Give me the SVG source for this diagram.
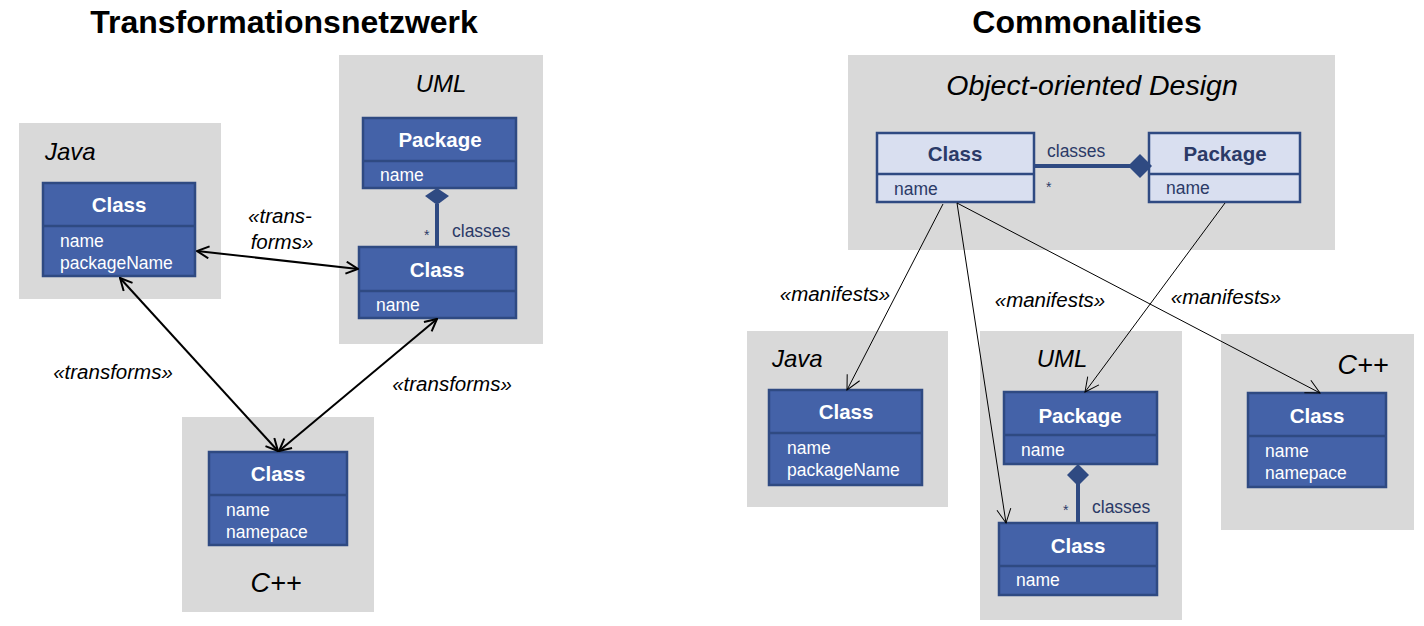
<svg xmlns="http://www.w3.org/2000/svg" width="1424" height="626" viewBox="0 0 1424 626">
<defs>
<style>
.bg{fill:#d9d9d9}
.dk{fill:#4462a8;stroke:#2f4a82;stroke-width:2.5}
.lt{fill:#d9dff0;stroke:#2f4a82;stroke-width:2.5}
.sep{stroke:#2f4a82;stroke-width:2.5}
.hd{font-family:"Liberation Sans",Arial,sans-serif;font-weight:bold;font-size:20.5px;text-anchor:middle}
.at{font-family:"Liberation Sans",Arial,sans-serif;font-size:17.5px}
.w{fill:#ffffff}
.n{fill:#2b3a67}
.title{font-family:"Liberation Sans",Arial,sans-serif;font-weight:bold;font-size:32px;text-anchor:middle;fill:#000}
.lang{font-family:"Liberation Sans",Arial,sans-serif;font-style:italic;font-size:24px;fill:#000}
.st{font-family:"Liberation Sans",Arial,sans-serif;font-style:italic;font-size:20.5px;fill:#000}
.thick{stroke:#000;stroke-width:2;fill:none}
.thin{stroke:#000;stroke-width:1;fill:none}
.assoc{stroke:#2f4a82;stroke-width:4;fill:none}
.dia{fill:#2f4a82}
</style>
<marker id="arr" viewBox="0 0 14 14" refX="13" refY="7" markerWidth="14" markerHeight="14" markerUnits="userSpaceOnUse" orient="auto-start-reverse">
<path d="M1,1 L13,7 L1,13" fill="none" stroke="#000" stroke-width="2"/>
</marker>
<marker id="arr2" viewBox="0 0 16 16" refX="15" refY="8" markerWidth="16" markerHeight="16" markerUnits="userSpaceOnUse" orient="auto">
<path d="M1,1 L15,8 L1,15" fill="none" stroke="#000" stroke-width="1"/>
</marker>
</defs>
<rect width="1424" height="626" fill="#ffffff"/>

<text class="title" x="284" y="33">Transformationsnetzwerk</text>
<text class="title" x="1087" y="33">Commonalities</text>

<!-- Left: containers -->
<g id="left-java">
<rect class="bg" x="19" y="123" width="202" height="176"/>
<text class="lang" x="45" y="160">Java</text>
</g>
<g id="left-uml">
<rect class="bg" x="339" y="55" width="204" height="289"/>
<text class="lang" x="441" y="92" text-anchor="middle">UML</text>
</g>
<g id="left-cpp">
<rect class="bg" x="182" y="417" width="192" height="195"/>
<text class="lang" x="276" y="592" text-anchor="middle" style="font-size:27px">C++</text>
</g>

<g id="left-java-class">
<rect class="dk" x="43" y="183" width="152" height="93"/>
<line class="sep" x1="43" y1="226" x2="195" y2="226"/>
<text class="hd w" x="119" y="212">Class</text>
<text class="at w" x="60" y="247">name</text>
<text class="at w" x="60" y="269">packageName</text>
</g>
<g id="left-uml-package">
<rect class="dk" x="363" y="118" width="153" height="70"/>
<line class="sep" x1="363" y1="161" x2="516" y2="161"/>
<text class="hd w" x="440" y="147">Package</text>
<text class="at w" x="380" y="181">name</text>
</g>
<g id="left-uml-class">
<rect class="dk" x="359" y="247" width="157" height="71"/>
<line class="sep" x1="359" y1="291" x2="516" y2="291"/>
<text class="hd w" x="437" y="277">Class</text>
<text class="at w" x="376" y="311">name</text>
</g>
<g id="left-cpp-class">
<rect class="dk" x="209" y="452" width="138" height="93"/>
<line class="sep" x1="209" y1="495" x2="347" y2="495"/>
<text class="hd w" x="278" y="481">Class</text>
<text class="at w" x="226" y="516">name</text>
<text class="at w" x="226" y="538">namepace</text>
</g>

<!-- Right: containers -->
<g id="right-ood">
<rect class="bg" x="848" y="55" width="487" height="195"/>
<text class="lang" x="1092" y="95" text-anchor="middle" style="font-size:28.5px">Object-oriented Design</text>
</g>
<g id="right-java">
<rect class="bg" x="747" y="331" width="201" height="176"/>
<text class="lang" x="772" y="367">Java</text>
</g>
<g id="right-uml">
<rect class="bg" x="980" y="331" width="202" height="289"/>
<text class="lang" x="1062" y="367" text-anchor="middle">UML</text>
</g>
<g id="right-cpp">
<rect class="bg" x="1221" y="334" width="193" height="196"/>
<text class="lang" x="1363" y="374" text-anchor="middle" style="font-size:27px">C++</text>
</g>

<g id="ood-class">
<rect class="lt" x="877" y="133" width="157" height="69"/>
<line class="sep" x1="877" y1="174" x2="1034" y2="174"/>
<text class="hd n" x="955" y="161">Class</text>
<text class="at n" x="894" y="195">name</text>
</g>
<g id="ood-package">
<rect class="lt" x="1149" y="133" width="151" height="69"/>
<line class="sep" x1="1149" y1="174" x2="1300" y2="174"/>
<text class="hd n" x="1225" y="161">Package</text>
<text class="at n" x="1166" y="194">name</text>
</g>
<g id="right-java-class">
<rect class="dk" x="769" y="390" width="153" height="95"/>
<line class="sep" x1="769" y1="433" x2="922" y2="433"/>
<text class="hd w" x="846" y="419">Class</text>
<text class="at w" x="787" y="454">name</text>
<text class="at w" x="787" y="476">packageName</text>
</g>
<g id="right-uml-package">
<rect class="dk" x="1004" y="392" width="153" height="72"/>
<line class="sep" x1="1004" y1="435" x2="1157" y2="435"/>
<text class="hd w" x="1080" y="423">Package</text>
<text class="at w" x="1021" y="456">name</text>
</g>
<g id="right-uml-class">
<rect class="dk" x="999" y="523" width="158" height="72"/>
<line class="sep" x1="999" y1="566" x2="1157" y2="566"/>
<text class="hd w" x="1078" y="553">Class</text>
<text class="at w" x="1016" y="586">name</text>
</g>
<g id="right-cpp-class">
<rect class="dk" x="1248" y="393" width="138" height="94"/>
<line class="sep" x1="1248" y1="436" x2="1386" y2="436"/>
<text class="hd w" x="1317" y="423">Class</text>
<text class="at w" x="1265" y="457">name</text>
<text class="at w" x="1265" y="479">namepace</text>
</g>

<g id="connectors">
<!-- left compositions -->
<line class="assoc" x1="437" y1="204" x2="437" y2="247"/>
<path class="dia" d="M437,188 L449,196 L437,205 L425,196 Z"/>
<text class="at n" x="424" y="240" style="font-size:14px">*</text>
<text class="at n" x="452" y="237">classes</text>

<!-- left transforms -->
<line class="thick" x1="197" y1="251" x2="358" y2="269" marker-start="url(#arr)" marker-end="url(#arr)"/>
<text class="st" x="280" y="223" text-anchor="middle">«trans-</text>
<text class="st" x="282" y="249" text-anchor="middle">forms»</text>
<line class="thick" x1="120" y1="278" x2="278" y2="451" marker-start="url(#arr)" marker-end="url(#arr)"/>
<text class="st" x="113" y="379" text-anchor="middle">«transforms»</text>
<line class="thick" x1="437" y1="319" x2="279" y2="451" marker-start="url(#arr)" marker-end="url(#arr)"/>
<text class="st" x="452" y="391" text-anchor="middle">«transforms»</text>

<!-- right composition OOD -->
<line class="assoc" x1="1034" y1="166" x2="1130" y2="166"/>
<path class="dia" d="M1128,166 L1140,154 L1152,166 L1140,178 Z"/>
<text class="at n" x="1047" y="157">classes</text>
<text class="at n" x="1046" y="192" style="font-size:14px">*</text>

<!-- right UML composition -->
<line class="assoc" x1="1078" y1="484" x2="1078" y2="523"/>
<path class="dia" d="M1078,464 L1089,475 L1078,486 L1067,475 Z"/>
<text class="at n" x="1063" y="515" style="font-size:14px">*</text>
<text class="at n" x="1092" y="513">classes</text>

<!-- manifests -->
<line class="thin" x1="943" y1="204" x2="847" y2="390" marker-end="url(#arr2)"/>
<text class="st" x="835" y="301" text-anchor="middle">«manifests»</text>
<line class="thin" x1="957" y1="203" x2="1006" y2="523" marker-end="url(#arr2)"/>
<text class="st" x="1050" y="307" text-anchor="middle">«manifests»</text>
<line class="thin" x1="957" y1="203" x2="1320" y2="393" marker-end="url(#arr2)"/>
<text class="st" x="1226" y="304" text-anchor="middle">«manifests»</text>
<line class="thin" x1="1225" y1="203" x2="1085" y2="392" marker-end="url(#arr2)"/>
</g>
</svg>
